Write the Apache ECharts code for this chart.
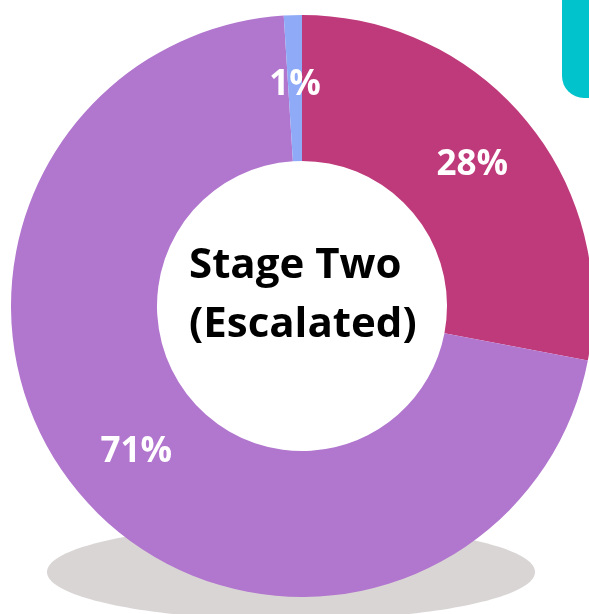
<!DOCTYPE html>
<html>
<head>
<meta charset="utf-8">
<style>
  html, body { margin: 0; padding: 0; background: #ffffff; }
  #chart { width: 589px; height: 614px; }
</style>
<script src="https://cdn.jsdelivr.net/npm/echarts@6/dist/echarts.min.js"></script>
</head>
<body>
<div id="chart"></div>
<script>
// Share of cases by group for the escalated stage
const categories = ['Group A', 'Group B', 'Group C'];
const shares = [28, 71, 1];
const sliceColors = ['#BF3A7B', '#B176CE', '#8FAAF7'];
const centerTitle = 'Stage Two\n(Escalated)';

const chart = echarts.init(document.getElementById('chart'), null, { renderer: 'canvas' });

const pieData = categories.map((name, i) => ({
  name: name,
  value: shares[i],
  itemStyle: { color: sliceColors[i] }
}));

chart.setOption({
  backgroundColor: '#ffffff',
  animation: false,
  graphic: [
    {
      // soft floor shadow under the ring
      type: 'ellipse',
      z: 0,
      shape: { cx: 291, cy: 572, rx: 244, ry: 48 },
      style: { fill: '#DAD5D5' }
    },
    {
      // teal tab at the top right corner
      type: 'rect',
      z: 0,
      shape: { x: 562, y: -20, width: 60, height: 118, r: 22 },
      style: { fill: '#00C3CB' }
    },
    {
      // title in the hole of the ring, left-aligned block
      type: 'text',
      z: 100,
      x: 189,
      y: 296,
      style: {
        text: centerTitle,
        fill: '#000000',
        font: 'bold 42px "Open Sans"',
        lineHeight: 59,
        align: 'left',
        verticalAlign: 'middle'
      }
    }
  ],
  series: [
    {
      type: 'pie',
      z: 5,
      center: [302, 306],
      radius: [145, 291],
      startAngle: 90,
      clockwise: true,
      silent: true,
      label: {
        show: true,
        position: 'inside',
        formatter: '{c}%',
        color: '#ffffff',
        fontFamily: 'Open Sans',
        fontWeight: 'bold',
        fontSize: 35
      },
      labelLine: { show: false },
      itemStyle: { borderWidth: 0 },
      data: pieData
    }
  ]
});
</script>
</body>
</html>
